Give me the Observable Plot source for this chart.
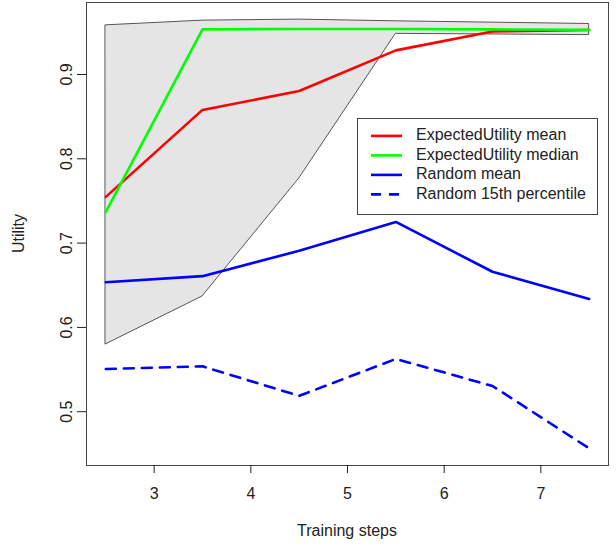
<!DOCTYPE html>
<html>
<head>
<meta charset="utf-8">
<script src="https://cdn.jsdelivr.net/npm/d3@7"></script>
<script src="https://cdn.jsdelivr.net/npm/@observablehq/plot@0.6"></script>
<style>
  html, body { margin: 0; padding: 0; background: #fff; }
  #chart { position: relative; width: 616px; height: 546px; }
</style>
</head>
<body>
<div id="chart"></div>
<script>
// ---- data ----
const steps = [2.5, 3.5, 4.5, 5.5, 6.5, 7.5];
const bandUpper = [0.9583, 0.9639, 0.9651, 0.9631, 0.9615, 0.9599];
const bandLower = [0.5798, 0.6367, 0.7765, 0.9482, 0.9475, 0.9467];
const euMean   = [0.7548, 0.8580, 0.8804, 0.9286, 0.9511, 0.9527];
const euMedian = [0.7371, 0.9535, 0.9540, 0.9540, 0.9535, 0.9530];
const randMean = [0.6536, 0.6608, 0.6909, 0.7251, 0.6660, 0.6338];
const randP15  = [0.5506, 0.5538, 0.5188, 0.5626, 0.5305, 0.4565];
const xTicks = [3, 4, 5, 6, 7];
const yTicks = [0.5, 0.6, 0.7, 0.8, 0.9];
const seriesNames = ["ExpectedUtility mean", "ExpectedUtility median", "Random mean", "Random 15th percentile"];
const seriesColors = ["#ff0000", "#00ff00", "#0000ff", "#0000ff"];
const seriesDash = [null, null, null, "10,8"];
const xLabel = "Training steps";
const yLabel = "Utility";

const band = steps.map((s, i) => ({x: s, lo: bandLower[i], hi: bandUpper[i]}));
const seriesValues = [euMean, euMedian, randMean, randP15];
const lines = seriesValues.map((vals) => steps.map((s, i) => ({x: s, y: vals[i]})));

const W = 616, H = 546;
const mL = 86, mR = 8, mT = 2, mB = 81;

const lineMarks = lines.map((rows, k) =>
  Plot.lineY(rows, {x: "x", y: "y", stroke: seriesColors[k], strokeWidth: 2.6,
    strokeDasharray: seriesDash[k] ?? undefined, strokeLinejoin: "round"}));

const svg = Plot.plot({
  width: W, height: H,
  marginLeft: mL, marginRight: mR, marginTop: mT, marginBottom: mB,
  style: {fontFamily: "'Liberation Sans', Arial, sans-serif", fontSize: "16px", color: "#222", background: "#fff"},
  x: {domain: [2.3, 7.7]},
  y: {domain: [0.4362, 0.9854]},
  marks: [
    Plot.areaY(band, {x: "x", y1: "lo", y2: "hi", fill: "#e5e5e5", stroke: "#555", strokeWidth: 1}),
    ...lineMarks,
    Plot.frame({stroke: "#444", strokeWidth: 1}),
    Plot.axisX({ticks: xTicks, tickSize: 8, tickPadding: 14, label: null, fontSize: 16, tickFormat: d3.format("d")}),
    Plot.axisY({ticks: yTicks, tickSize: 9, tickPadding: 6, label: null, fontSize: 16, tickRotate: -90, tickFormat: d3.format(".1f")})
  ]
});
document.getElementById("chart").append(svg);

// axis titles and legend (layout)
const s = d3.select(svg);
const fx = mL + (W - mL - mR) / 2, fy = mT + (H - mT - mB) / 2;
s.append("text").attr("x", fx).attr("y", 532).attr("text-anchor", "middle")
  .attr("dominant-baseline", "middle").attr("fill", "#222").attr("font-size", 16).text(xLabel);
s.append("text").attr("transform", `translate(20,${fy}) rotate(-90)`).attr("text-anchor", "middle")
  .attr("dominant-baseline", "middle").attr("fill", "#222").attr("font-size", 16).text(yLabel);

const lg = s.append("g");
lg.append("rect").attr("x", 357.5).attr("y", 118.5).attr("width", 240).attr("height", 96)
  .attr("fill", "#fff").attr("stroke", "#444").attr("stroke-width", 1);
seriesNames.forEach((name, i) => {
  const yy = 135.9 + i * 19.5;
  lg.append("line").attr("x1", 371).attr("x2", 402).attr("y1", yy).attr("y2", yy)
    .attr("stroke", seriesColors[i]).attr("stroke-width", 2.6)
    .attr("stroke-dasharray", seriesDash[i]);
  lg.append("text").attr("x", 416).attr("y", yy).attr("text-anchor", "start")
    .attr("dominant-baseline", "middle")
    .attr("fill", "#222").attr("font-size", 16).text(name);
});
</script>
</body>
</html>
